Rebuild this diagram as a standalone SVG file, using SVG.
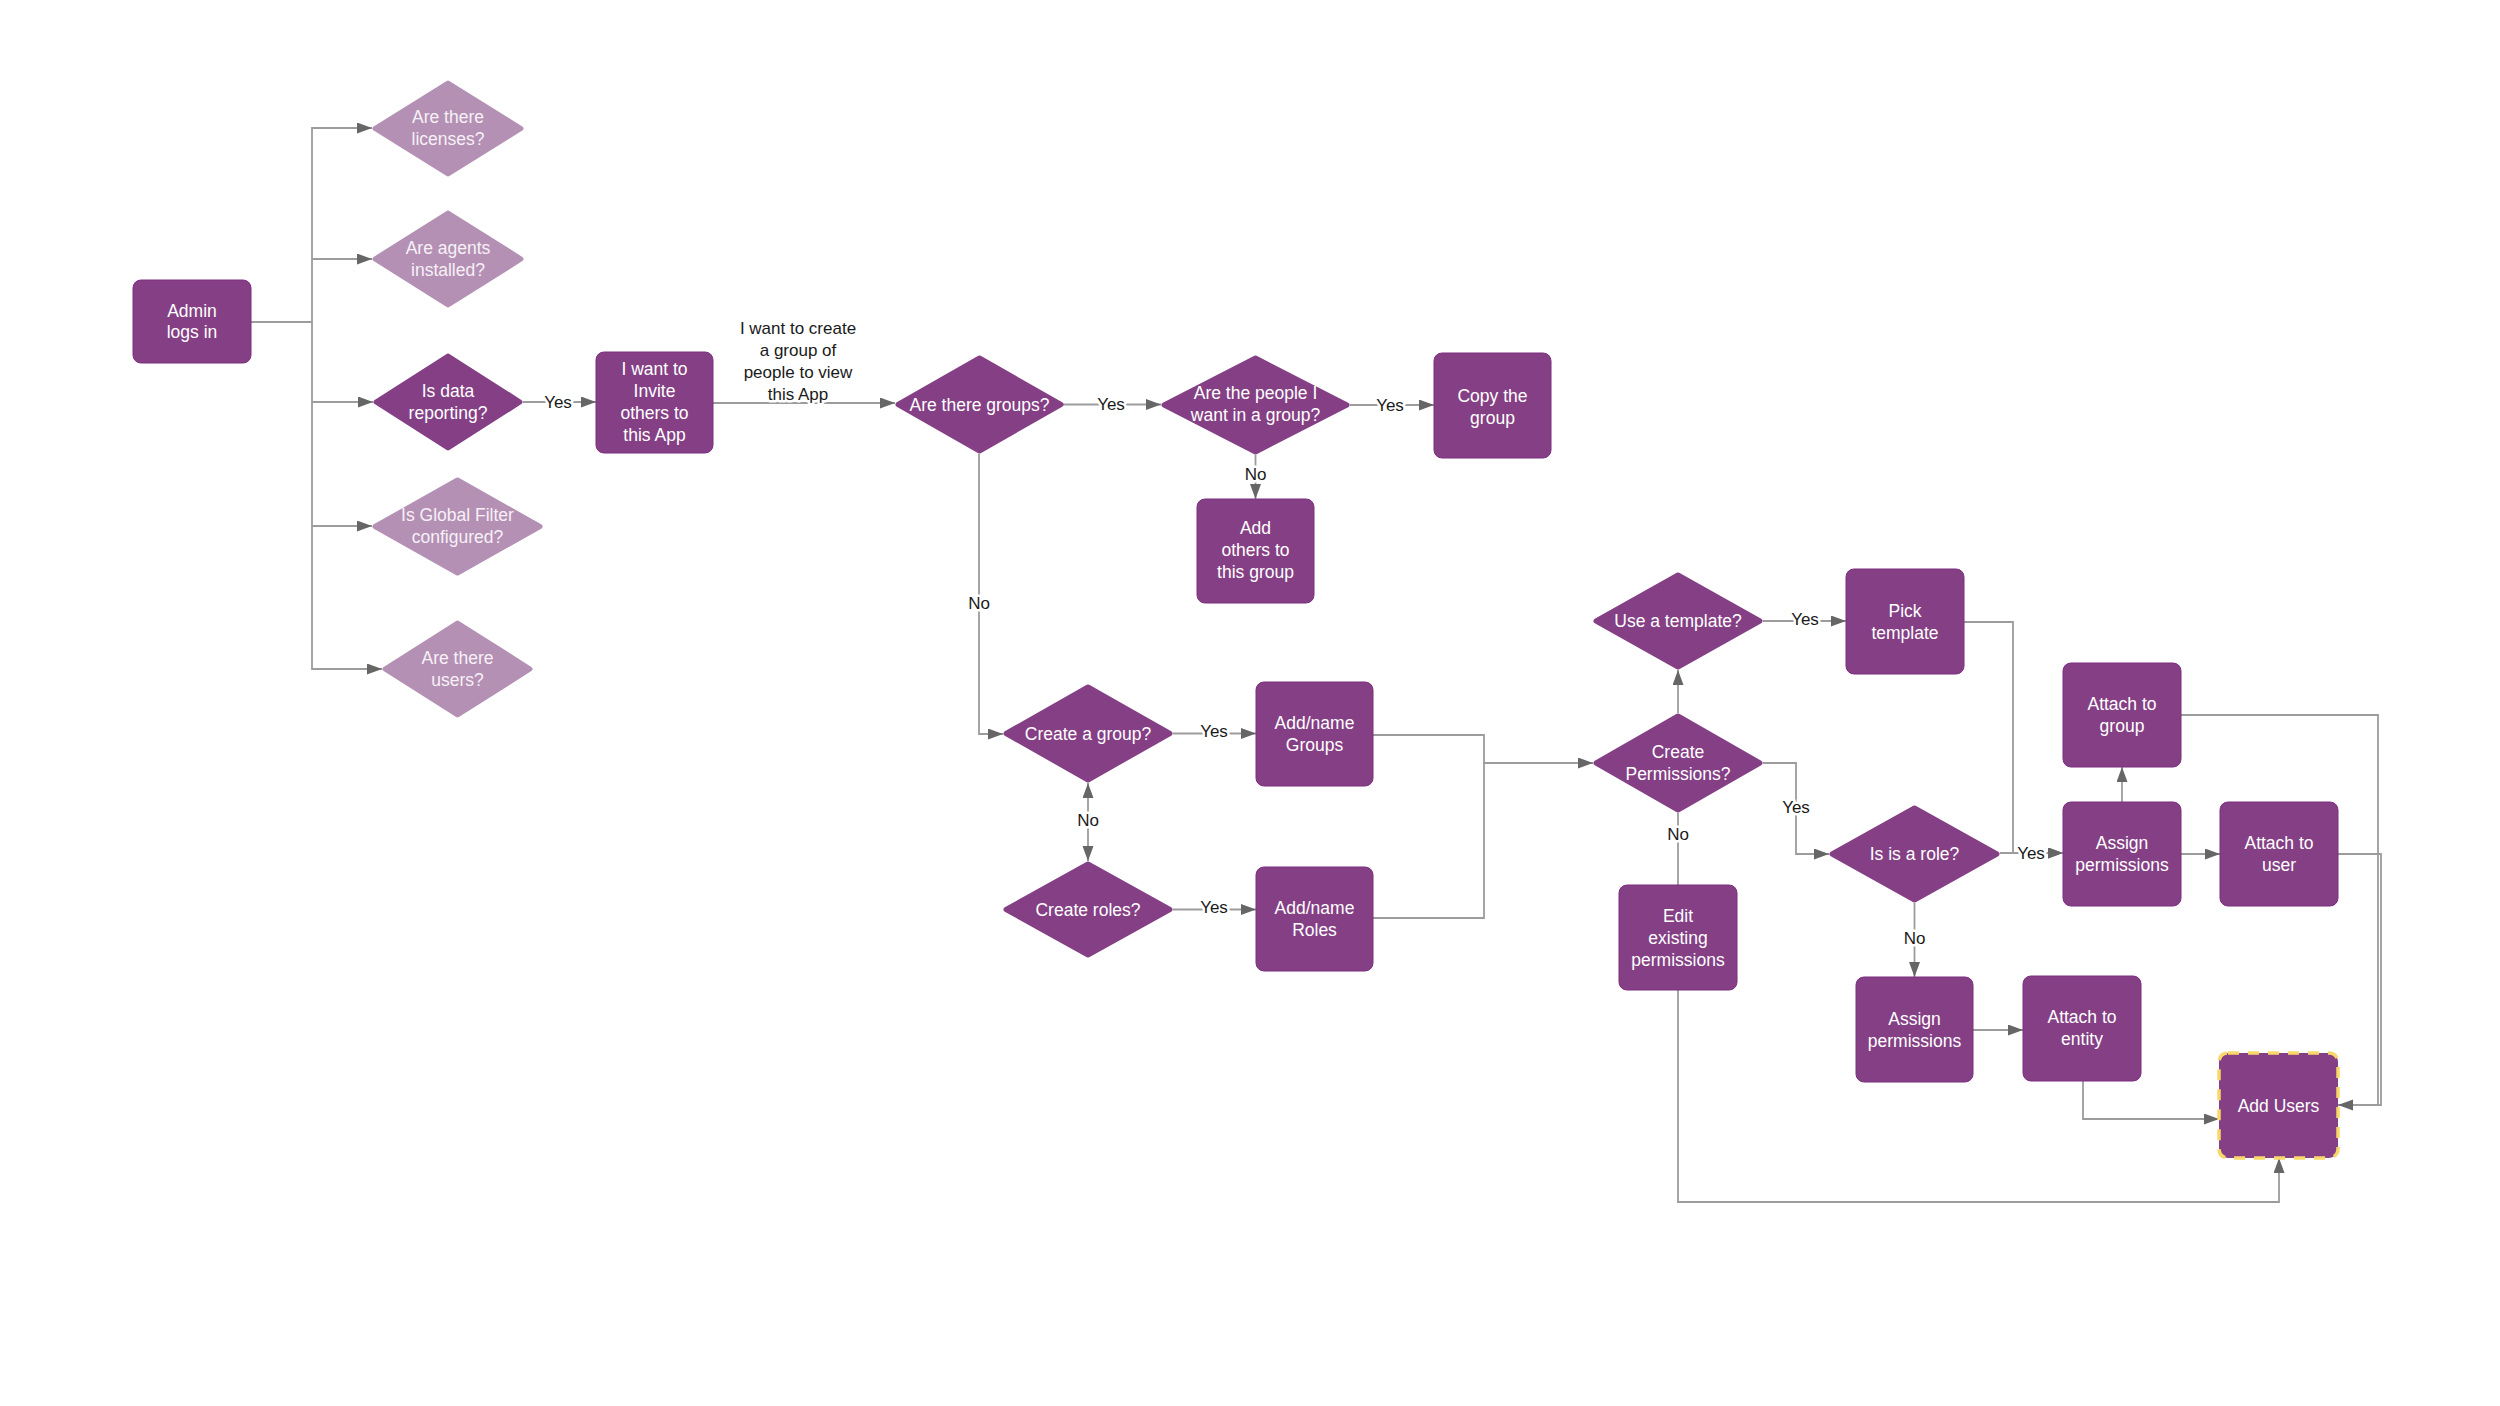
<svg xmlns="http://www.w3.org/2000/svg" width="2500" height="1406" viewBox="0 0 2500 1406">
<style>
.n{fill:#843f85;stroke:#7d2f81;stroke-width:1}
.d{fill:#843f85;stroke:#843f85;stroke-width:5;stroke-linejoin:round}
.l{fill:#b490b4;stroke:#b490b4;stroke-width:5;stroke-linejoin:round}
.t{font-family:"Liberation Sans",Arial,sans-serif;font-size:17.5px;fill:#ffffff;text-anchor:middle}
.lt{fill:#f7f0f7}
.c path{fill:none;stroke:#9c9c9c;stroke-width:1.8}
.a{marker-end:url(#ah)}
.lb{font-family:"Liberation Sans",Arial,sans-serif;font-size:17px;fill:#1a1a1a;text-anchor:middle;paint-order:stroke;stroke:#ffffff;stroke-width:5px;stroke-linejoin:round}
</style>
<defs>
<marker id="ah" markerUnits="userSpaceOnUse" markerWidth="16" markerHeight="12" refX="15" refY="5.5" orient="auto-start-reverse" viewBox="0 0 16 12">
<path d="M0,0 L15,5.5 L0,11 Z" fill="#666666"/>
</marker>
</defs>
<rect width="2500" height="1406" fill="#ffffff"/>
<g id="connectors" class="c">
<path class="a" d="M251,322 H312 V128 H372"/>
<path class="a" d="M312,259 H372"/>
<path class="a" d="M312,322 V402 H373"/>
<path class="a" d="M312,402 V526 H372"/>
<path class="a" d="M312,526 V669 H382"/>
<path class="a" d="M523,402 H596"/>
<path class="a" d="M713,403 H895"/>
<path class="a" d="M1063,404.5 H1161"/>
<path class="a" d="M1350,405 H1434"/>
<path class="a" d="M1255.5,455 V499"/>
<path class="a" d="M979,454 V734 H1003"/>
<path class="a" d="M1173,733.5 H1256"/>
<path style="marker-start:url(#ah);marker-end:url(#ah)" d="M1088,783 V861"/>
<path class="a" d="M1173,909.5 H1256"/>
<path class="a" d="M1373,735 H1484 V763 H1593"/>
<path d="M1373,918 H1484 V763"/>
<path class="a" d="M1678,713 V670"/>
<path class="a" d="M1763,621 H1846"/>
<path class="a" d="M1964,622 H2013 V853 H2063"/>
<path class="a" d="M2000,853 H2063"/>
<path class="a" d="M1763,763 H1796 V854 H1829"/>
<path d="M1678,813 V885"/>
<path class="a" d="M1678,990 V1202 H2279 V1158"/>
<path class="a" d="M1914.5,903 V977"/>
<path class="a" d="M1973,1030 H2023"/>
<path class="a" d="M2083,1081 V1119 H2219"/>
<path class="a" d="M2122,802 V767"/>
<path class="a" d="M2181,854 H2220"/>
<path class="a" d="M2181,715 H2378 V1105 H2338"/>
<path d="M2338,854 H2381 V1105 H2376"/>
</g>
<g id="labels">
<text class="lb" x="558" y="408">Yes</text>
<text class="lb" x="798" y="334">I want to create</text>
<text class="lb" x="798" y="356">a group of</text>
<text class="lb" x="798" y="378">people to view</text>
<text class="lb" x="798" y="400">this App</text>
<text class="lb" x="1111" y="410">Yes</text>
<text class="lb" x="1390" y="411">Yes</text>
<text class="lb" x="1255.5" y="480">No</text>
<text class="lb" x="979" y="609">No</text>
<text class="lb" x="1214" y="737">Yes</text>
<text class="lb" x="1088" y="826">No</text>
<text class="lb" x="1214" y="913">Yes</text>
<text class="lb" x="1805" y="625">Yes</text>
<text class="lb" x="1796" y="813">Yes</text>
<text class="lb" x="1678" y="840">No</text>
<text class="lb" x="2031" y="859">Yes</text>
<text class="lb" x="1914.5" y="944">No</text>
</g>
<g id="admin"><rect class="n" x="133" y="280" width="118" height="83" rx="8"/><text class="t" x="192" y="317">Admin</text><text class="t" x="192" y="338">logs in</text></g>
<g id="licenses"><polygon class="l" points="375,128.5 448,83 521,128.5 448,174"/><text class="t lt" x="448" y="123">Are there</text><text class="t lt" x="448" y="145">licenses?</text></g>
<g id="agents"><polygon class="l" points="375,259 448,213 521,259 448,305"/><text class="t lt" x="448" y="254">Are agents</text><text class="t lt" x="448" y="276">installed?</text></g>
<g id="data"><polygon class="d" points="376,402 448,356 520,402 448,448"/><text class="t" x="448" y="397">Is data</text><text class="t" x="448" y="419">reporting?</text></g>
<g id="filter"><polygon class="l" points="375,526.5 457.5,480 540,526.5 457.5,573"/><text class="t lt" x="457.5" y="521">Is Global Filter</text><text class="t lt" x="457.5" y="543">configured?</text></g>
<g id="users"><polygon class="l" points="385,669 457.5,623 530,669 457.5,715"/><text class="t lt" x="457.5" y="664">Are there</text><text class="t lt" x="457.5" y="686">users?</text></g>
<g id="invite"><rect class="n" x="596" y="352" width="117" height="101" rx="8"/><text class="t" x="654.5" y="375">I want to</text><text class="t" x="654.5" y="397">Invite</text><text class="t" x="654.5" y="419">others to</text><text class="t" x="654.5" y="441">this App</text></g>
<g id="groups"><polygon class="d" points="898,404.5 979.5,358 1061,404.5 979.5,451"/><text class="t" x="979.5" y="410.5">Are there groups?</text></g>
<g id="people"><polygon class="d" points="1164,405 1255.5,358 1347,405 1255.5,452"/><text class="t" x="1255.5" y="399">Are the people I</text><text class="t" x="1255.5" y="421">want in a group?</text></g>
<g id="copy"><rect class="n" x="1434" y="353" width="117" height="105" rx="8"/><text class="t" x="1492.5" y="402">Copy the</text><text class="t" x="1492.5" y="424">group</text></g>
<g id="addothers"><rect class="n" x="1197" y="499" width="117" height="104" rx="8"/><text class="t" x="1255.5" y="534">Add</text><text class="t" x="1255.5" y="556">others to</text><text class="t" x="1255.5" y="578">this group</text></g>
<g id="creategroup"><polygon class="d" points="1006,733.5 1088,687 1170,733.5 1088,780"/><text class="t" x="1088" y="739.5">Create a group?</text></g>
<g id="createroles"><polygon class="d" points="1006,909.5 1088,864 1170,909.5 1088,955"/><text class="t" x="1088" y="915.5">Create roles?</text></g>
<g id="addgroups"><rect class="n" x="1256" y="682" width="117" height="104" rx="8"/><text class="t" x="1314.5" y="729">Add/name</text><text class="t" x="1314.5" y="751">Groups</text></g>
<g id="addroles"><rect class="n" x="1256" y="867" width="117" height="104" rx="8"/><text class="t" x="1314.5" y="914">Add/name</text><text class="t" x="1314.5" y="936">Roles</text></g>
<g id="template"><polygon class="d" points="1596,621 1678,575 1760,621 1678,667"/><text class="t" x="1678" y="627">Use a template?</text></g>
<g id="permissions"><polygon class="d" points="1596,763 1678,716 1760,763 1678,810"/><text class="t" x="1678" y="758">Create</text><text class="t" x="1678" y="780">Permissions?</text></g>
<g id="pick"><rect class="n" x="1846" y="569" width="118" height="105" rx="8"/><text class="t" x="1905" y="617">Pick</text><text class="t" x="1905" y="639">template</text></g>
<g id="edit"><rect class="n" x="1619" y="885" width="118" height="105" rx="8"/><text class="t" x="1678" y="922">Edit</text><text class="t" x="1678" y="944">existing</text><text class="t" x="1678" y="966">permissions</text></g>
<g id="role"><polygon class="d" points="1832,854 1914.5,808 1997,854 1914.5,900"/><text class="t" x="1914.5" y="860">Is is a role?</text></g>
<g id="attachgroup"><rect class="n" x="2063" y="663" width="118" height="104" rx="8"/><text class="t" x="2122" y="710">Attach to</text><text class="t" x="2122" y="732">group</text></g>
<g id="assign1"><rect class="n" x="2063" y="802" width="118" height="104" rx="8"/><text class="t" x="2122" y="849">Assign</text><text class="t" x="2122" y="871">permissions</text></g>
<g id="attachuser"><rect class="n" x="2220" y="802" width="118" height="104" rx="8"/><text class="t" x="2279" y="849">Attach to</text><text class="t" x="2279" y="871">user</text></g>
<g id="assign2"><rect class="n" x="1856" y="977" width="117" height="105" rx="8"/><text class="t" x="1914.5" y="1025">Assign</text><text class="t" x="1914.5" y="1047">permissions</text></g>
<g id="entity"><rect class="n" x="2023" y="976" width="118" height="105" rx="8"/><text class="t" x="2082" y="1023">Attach to</text><text class="t" x="2082" y="1045">entity</text></g>
<g id="addusers"><rect x="2219" y="1053" width="119" height="105" rx="9" fill="#843f85" stroke="#f9d86a" stroke-width="3.5" stroke-dasharray="11 9"/><text class="t" x="2278.5" y="1111.5">Add Users</text></g>
</svg>
